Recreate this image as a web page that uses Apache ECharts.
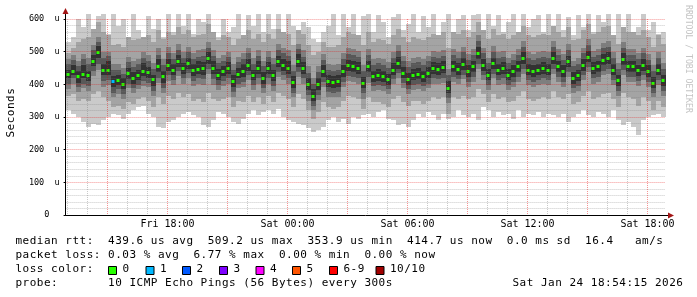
<!DOCTYPE html>
<html><head><meta charset="utf-8">
<script src="https://cdn.jsdelivr.net/npm/echarts@6/dist/echarts.min.js"></script>
<style>html,body{margin:0;padding:0;background:#fff}#c{width:697px;height:297px}</style>
</head><body><div id="c"></div>
<script>
// ---- time base (hours since Fri 00:00) ----
const startHour = 12 + 54/60 + 15/3600;   // Fri 12:54:15
const endHour = startHour + 30;           // Sat 18:54:15
const stepHours = 0.25;

// ---- median rtt (us) per 15-min bin ----
const med = [432,440,425,432,430,470,500,445,445,410,
412,400,434,420,430,442,438,415,455,425,
460,445,470,450,465,445,448,450,480,450,
430,440,450,410,433,440,460,430,450,420,
450,428,470,460,450,408,470,450,400,365,
400,440,410,408,410,440,458,455,450,405,
455,425,428,425,415,445,466,435,416,430,
433,425,435,450,446,452,390,455,447,462,
440,455,495,460,430,465,445,450,430,440,
455,480,445,440,445,450,445,480,455,440,
470,420,428,460,485,450,455,475,480,445,
412,478,455,455,443,460,440,405,445,412];

// ---- smoke: sorted ping bands (outer 1 .. inner 5) ----
const hi1 = [530,545,600,575,615,560,610,615,555,615,
580,600,540,615,565,545,610,570,600,545,
615,560,615,580,615,555,600,590,615,560,
545,600,560,575,615,530,612,580,615,560,
615,570,615,545,615,580,560,590,575,540,
530,560,580,615,550,615,575,615,545,610,
615,560,612,590,545,605,615,565,585,615,
560,610,575,615,550,590,615,560,600,612,
565,612,615,555,615,580,612,560,590,615,
550,615,575,600,612,560,615,580,615,565,
605,550,612,575,615,560,612,590,615,545,
615,570,615,560,575,615,565,590,555,560];
const lo1 = [320,310,300,285,270,280,275,290,300,310,
305,295,310,320,330,335,310,300,270,265,
285,290,300,310,315,305,300,275,270,290,
315,310,300,285,280,295,310,320,305,315,
320,310,325,300,290,285,280,275,265,255,
260,270,290,300,285,295,280,300,295,305,
310,300,315,320,295,290,275,280,270,290,
310,300,315,305,290,310,295,300,320,305,
300,310,290,330,320,300,315,305,310,295,
320,300,310,305,315,300,310,305,300,310,
285,300,310,320,305,300,315,310,300,320,
290,275,285,270,245,290,300,305,310,300];
const hi2 = [495,510,530,540,545,570,590,560,550,520,
525,515,545,535,540,545,550,530,565,540,
560,550,575,555,565,545,550,555,585,560,
535,550,545,520,540,550,565,540,555,530,
555,540,570,560,555,520,565,555,520,490,
500,530,515,515,520,545,560,555,550,520,
560,530,540,535,525,550,570,545,530,545,
540,535,545,555,550,560,510,560,555,565,
545,560,590,565,540,570,550,555,540,550,
560,580,550,545,550,555,550,580,560,545,
575,535,540,565,585,555,560,575,580,550,
525,575,560,560,550,565,545,515,550,525];
const lo2 = [365,370,350,355,350,370,380,360,350,330,
335,325,345,340,355,360,350,330,360,340,
365,355,375,360,370,350,355,345,375,355,
350,355,360,330,350,345,365,345,360,340,
365,345,375,365,355,330,370,355,320,295,
315,345,330,325,330,350,365,360,355,325,
360,345,345,340,330,355,365,345,335,350,
350,340,350,360,355,360,310,360,355,365,
355,360,385,370,345,370,355,360,345,350,
365,380,355,350,355,360,355,380,360,355,
370,340,345,365,380,355,360,370,375,355,
330,375,360,355,335,360,350,320,350,330];
const hi3 = [478,490,470,492,480,520,545,498,500,462,
462,450,485,470,478,498,490,465,510,478,
515,495,525,500,515,495,505,508,530,505,
482,490,500,462,485,495,512,480,505,472,
502,480,525,512,505,460,525,505,455,420,
455,492,462,460,462,495,510,508,502,458,
508,478,482,478,468,500,520,488,470,482,
485,478,488,502,500,505,448,508,500,515,
492,508,550,512,482,518,498,502,482,492,
508,532,498,492,498,502,498,532,508,492,
522,472,480,512,538,502,508,528,532,498,
465,530,508,508,495,512,492,458,498,465];
const lo3 = [385,400,378,388,380,425,445,392,398,360,
370,355,388,375,385,395,392,365,405,375,
410,398,425,400,418,395,400,398,432,398,
382,395,402,362,388,392,412,382,402,372,
402,380,422,412,402,360,422,402,350,320,
352,392,362,360,362,392,410,408,402,355,
405,380,382,380,370,400,420,390,370,382,
385,380,388,402,400,405,342,408,400,415,
392,408,448,412,382,418,398,402,382,392,
408,432,398,392,398,402,398,432,408,392,
422,372,380,412,438,402,408,428,432,398,
365,430,408,408,395,412,392,360,398,365];
const hi4 = [462,475,455,478,462,505,530,480,488,445,
445,432,468,452,462,480,470,448,490,458,
495,478,505,482,498,478,485,488,512,488,
465,472,485,445,468,478,495,462,488,455,
485,462,505,495,488,442,508,485,435,400,
438,475,445,442,445,478,492,490,485,440,
490,460,465,460,450,482,502,470,452,465,
468,460,470,485,482,488,428,490,482,498,
475,490,532,495,465,500,480,485,465,475,
490,515,480,475,480,485,480,515,490,475,
505,455,462,495,520,485,490,510,515,480,
448,512,490,490,478,495,475,440,480,448];
const lo4 = [400,418,392,402,395,440,462,410,412,375,
385,370,402,390,398,410,405,380,420,390,
428,412,440,418,435,410,418,415,448,415,
398,410,418,378,402,408,428,398,418,388,
418,395,438,428,418,375,438,418,368,335,
368,408,378,375,378,408,425,422,418,372,
422,395,398,395,385,415,435,405,385,398,
400,395,402,418,415,420,358,422,415,430,
408,422,462,428,398,432,412,418,398,408,
422,448,412,408,412,418,412,448,422,408,
438,388,395,428,452,418,422,442,448,412,
380,445,422,422,410,428,408,375,412,380];
const hi5 = [445,458,440,460,442,490,518,462,470,425,
428,420,450,438,445,465,452,430,478,440,
478,462,490,465,480,462,470,468,498,472,
448,455,468,430,450,462,478,445,470,438,
468,445,488,478,470,425,492,468,420,385,
420,458,428,425,428,460,475,472,468,422,
472,442,448,442,432,465,485,452,435,448,
450,442,452,468,465,470,410,472,465,480,
458,472,515,478,448,482,462,468,448,458,
472,498,462,458,462,468,462,498,472,458,
488,438,445,478,502,468,472,492,498,462,
430,495,472,472,460,478,458,422,462,430];
const lo5 = [418,430,405,420,410,455,482,428,430,392,
398,385,415,402,412,425,420,395,438,405,
440,428,452,432,448,425,432,430,462,432,
412,425,432,392,418,422,442,412,432,402,
432,410,452,442,432,390,452,432,382,348,
382,422,392,390,392,422,440,438,432,388,
438,408,410,408,398,428,448,418,398,412,
415,408,418,432,428,435,372,438,430,445,
422,438,478,442,412,448,428,432,412,422,
438,462,428,422,428,432,428,462,438,422,
452,402,410,442,468,432,438,458,462,428,
395,460,438,438,425,442,422,388,428,395];

// bins with packet loss (count of lost pings out of 10)
const lossBins = [9];
const lossCounts = [1];

// ---- axis ticks / labels ----
const hourTicks = [13,14,15,16,17,18,19,20,21,22,23,24,25,26,27,28,29,30,31,32,33,34,35,36,37,38,39,40,41,42];
const xLabelHours = [18,24,30,36,42];
const xLabels = ['Fri 18:00','Sat 00:00','Sat 06:00','Sat 12:00','Sat 18:00'];

// ---- legend texts ----
const legendLines = [
 'median rtt:  439.6 us avg  509.2 us max  353.9 us min  414.7 us now  0.0 ms sd  16.4   am/s',
 'packet loss: 0.03 % avg  6.77 % max  0.00 % min  0.00 % now',
 'loss color:',
 'probe:       10 ICMP Echo Pings (56 Bytes) every 300s'
];
const dateText = 'Sat Jan 24 18:54:15 2026';
const lossColors = ['#26ff00','#00b8ff','#0059ff','#7e00ff','#ff00ff','#ff5500','#ff0000','#a10000'];
const lossLabels = ['0','1','2','3','4','5','6-9','10/10'];

// ---- styles ----
const smokeColors = ['#cacaca','#a4a4a4','#7e7e7e','#585858','#323232'];
const majorGrid = 'rgba(230,0,0,0.42)';
const minorGrid = 'rgba(120,120,120,0.40)';
const mono = '"DejaVu Sans Mono", monospace';
const arrowColor = '#a31515';

function lossColorIndex(n){ if(n<=5) return n; if(n<10) return 6; return 7; }

const smokeData = med.map((m,i)=>{
  const k = lossBins.indexOf(i);
  return [startHour + (i+0.5)*stepHours, lo1[i],lo2[i],lo3[i],lo4[i],lo5[i],hi5[i],hi4[i],hi3[i],hi2[i],hi1[i], m, k>=0?lossCounts[k]:0];
});

function renderSmoke(params, api){
  const x = api.value(0);
  const w = api.size([stepHours,0])[0];
  const cx = api.coord([x,0])[0];
  const x0 = Math.round(cx - w/2), x1 = Math.round(cx + w/2);
  const children = [];
  for(let b=0;b<5;b++){
    const yl = Math.round(api.coord([x, api.value(1+b)])[1]);
    const yh = Math.round(api.coord([x, api.value(10-b)])[1]);
    children.push({type:'rect', shape:{x:x0, y:yh, width:x1-x0, height:yl-yh}, style:{fill:smokeColors[b]}});
  }
  const ym = Math.round(api.coord([x, api.value(11)])[1]);
  const cxr = Math.round(cx);
  children.push({type:'rect', shape:{x:cxr-1.5, y:ym-1, width:3, height:3}, style:{fill:lossColors[lossColorIndex(api.value(12))]}});
  return {type:'group', children};
}

const chart = echarts.init(document.getElementById('c'), null, {renderer:'canvas'});
const option = {
  animation:false,
  backgroundColor:'#ffffff',
  grid:{left:65.58, right:31.42, top:19, bottom:82},
  xAxis:{type:'value', min:startHour, max:endHour, z:5,
    axisLine:{show:true, onZero:false, lineStyle:{color:'#000', width:1}},
    axisTick:{show:false}, axisLabel:{show:false}, splitLine:{show:false}},
  yAxis:{type:'value', min:0, max:600, interval:100, z:5,
    axisLine:{show:true, lineStyle:{color:'#000', width:1}},
    axisTick:{show:true, length:2, lineStyle:{color:'#000'}},
    axisLabel:{fontFamily:mono, fontSize:8.5, color:'#000', margin:6,
      formatter:v => v===0 ? '0  ' : v + '  u'},
    splitLine:{show:true, lineStyle:{color:majorGrid, type:[1,1], width:1}},
    minorTick:{show:false, splitNumber:5},
    minorSplitLine:{show:true, lineStyle:{color:minorGrid, type:[1,1], width:1}}},
  series:[
    {type:'custom', renderItem:renderSmoke, data:smokeData, clip:false, z:2, silent:true,
      encode:{x:0, y:11}}
  ]
};
chart.setOption(option);

function monoText(str, x0, yc, adv, font, fill){
  const els = [];
  for(let i=0;i<str.length;i++){
    const ch = str[i]; if(ch===' ') continue;
    els.push({type:'text', silent:true, x:x0+i*adv, y:yc,
      style:{text:ch, x:0, y:0, font:font, fill:fill||'#000',
        textAlign:'left', align:'left', textVerticalAlign:'middle', verticalAlign:'middle'}});
  }
  return els;
}

const g = [];
// vertical grid lines (hourly, 3-hourly major), dotted 1-on 1-off, blended over the smoke
const yBot = chart.convertToPixel({yAxisIndex:0}, 0);
const yTop = chart.convertToPixel({yAxisIndex:0}, 600);
hourTicks.forEach(h=>{
  const px = Math.round(chart.convertToPixel({xAxisIndex:0}, h) - 0.5);
  const col = h%3===0 ? majorGrid : minorGrid;
  for(let y=Math.round(yTop); y<Math.round(yBot); y+=2){
    g.push({type:'rect', silent:true, z:20, shape:{x:px, y:y, width:1, height:1}, style:{fill:col}});
  }
});
const legFont = '11px ' + mono;
const adv = 7.12;
const lineY = [241.5, 255.5, 269.5, 283.5];
legendLines.forEach((s,i)=>{ g.push(...monoText(s, 15.5, lineY[i], adv, legFont)); });
g.push(...monoText(dateText, 512.5, lineY[3], adv, legFont));
const boxX = [108.5,146,182.5,219.5,256,292.5,329.5,376];
lossColors.forEach((c,i)=>{
  g.push({type:'rect', silent:true, shape:{x:boxX[i], y:266.5, width:8, height:8},
    style:{fill:c, stroke:'#000', lineWidth:1}});
  g.push(...monoText(lossLabels[i], boxX[i]+14, lineY[2], adv, legFont));
});
// x tick labels
xLabelHours.forEach((h,i)=>{
  const px = chart.convertToPixel({xAxisIndex:0}, h);
  g.push({type:'text', silent:true, x:px, y:224.5,
    style:{text:xLabels[i], x:0, y:0, font:'10px '+mono, fill:'#000',
      textAlign:'center', align:'center', textVerticalAlign:'middle', verticalAlign:'middle'}});
});
// y axis title
g.push({type:'group', x:11, y:137.5, rotation:Math.PI/2, children: monoText('Seconds', 0, 0, adv, legFont)});
// watermark
g.push({type:'group', x:688, y:5, rotation:-Math.PI/2, children: monoText('RRDTOOL / TOBI OETIKER', 0, 0, 4.9, '8.2px '+mono, '#c4c4c4')});
// arrows
const ax = Math.round(chart.convertToPixel({xAxisIndex:0}, startHour)-0.5)+0.5;
const ay = Math.round(yBot-0.5)+0.5;
const axEnd = chart.convertToPixel({xAxisIndex:0}, endHour);
g.push({type:'line', silent:true, z:21, shape:{x1:ax, y1:yTop, x2:ax, y2:13}, style:{stroke:'#000', lineWidth:1}});
g.push({type:'polygon', silent:true, z:21, shape:{points:[[ax-3,14],[ax+3,14],[ax,8]]}, style:{fill:arrowColor}});
g.push({type:'line', silent:true, z:21, shape:{x1:axEnd, y1:ay, x2:669, y2:ay}, style:{stroke:'#000', lineWidth:1}});
g.push({type:'polygon', silent:true, z:21, shape:{points:[[668,ay-3],[668,ay+3],[674,ay]]}, style:{fill:arrowColor}});
chart.setOption({graphic:g});
</script>
</body></html>
